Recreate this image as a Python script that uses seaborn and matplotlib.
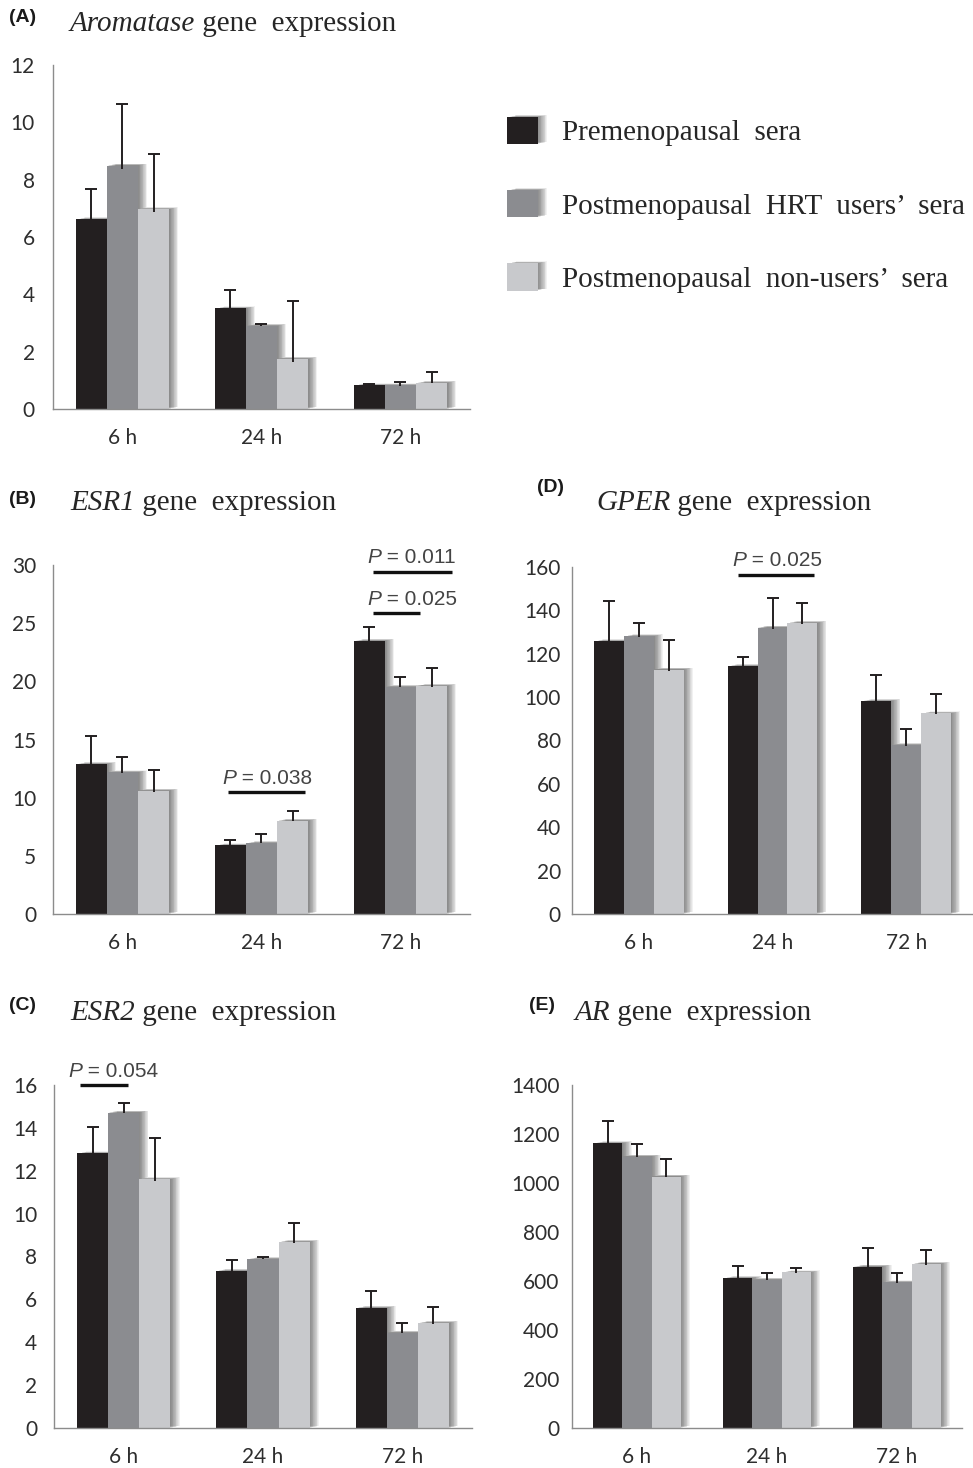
import numpy as np
import pandas as pd
import matplotlib
matplotlib.use("Agg")
import matplotlib.pyplot as plt
import matplotlib.patheffects as pe
import seaborn as sns

sns.set_style("white")
plt.rcParams['font.family'] = ['Lato', 'DejaVu Sans']

# data
times = ['6 h', '24 h', '72 h']
groups = ['Premenopausal  sera', 'Postmenopausal  HRT  users\u2019  sera',
          'Postmenopausal  non-users\u2019  sera']
colors = ['#231f20', '#8b8c90', '#c8c9cc']

arom_mean = [[6.62, 3.51, 0.82], [8.49, 2.90, 0.82], [6.97, 1.75, 0.91]]
arom_err = [[1.05, 0.65, 0.05], [2.14, 0.07, 0.12], [1.91, 2.01, 0.37]]

esr1_mean = [[12.88, 5.90, 23.48], [12.17, 6.10, 19.52], [10.59, 8.02, 19.61]]
esr1_err = [[2.38, 0.43, 1.23], [1.29, 0.74, 0.89], [1.75, 0.80, 1.52]]

gper_mean = [[125.8, 114.3, 98.2], [128.1, 132.1, 77.9], [112.7, 134.2, 92.5]]
gper_err = [[18.4, 4.0, 12.2], [6.3, 13.6, 7.4], [13.8, 9.2, 8.9]]

esr2_mean = [[12.81, 7.33, 5.60], [14.71, 7.88, 4.44], [11.60, 8.68, 4.90]]
esr2_err = [[1.23, 0.50, 0.80], [0.43, 0.10, 0.48], [1.91, 0.86, 0.75]]

ar_mean = [[1162, 612, 659], [1108, 605, 594], [1026, 635, 670]]
ar_err = [[93, 51, 75], [50, 27, 38], [71, 20, 57]]

# significance bars: (x start, x end, y, p value)
esr1_sig = [(0.76, 1.31, 10.45, '0.038'), (1.80, 2.37, 29.43, '0.011'),
            (1.80, 2.14, 25.85, '0.025')]
gper_sig = [(0.74, 1.31, 156.4, '0.025')]
esr2_sig = [(-0.31, 0.03, 16.0, '0.054')]

W, H = 973, 1468
fig = plt.figure(figsize=(W / 100, H / 100), dpi=100)


def px_axes(x0, y0, x1, y1):
    return fig.add_axes([x0 / W, 1 - y1 / H, (x1 - x0) / W, (y1 - y0) / H])


def shadow():
    # soft grey shadow on the right side of each bar
    effects = [pe.SimplePatchShadow(offset=(i * 0.55, 0.12 * i), shadow_rgbFace='#404040', alpha=0.07)
               for i in range(1, 13)]
    return effects + [pe.Normal()]


def draw_panel(ax, means, errs, ymax, ystep, ypad):
    rows = []
    for g, vals in zip(groups, means):
        for t, v in zip(times, vals):
            rows.append({'time': t, 'group': g, 'value': v})
    df = pd.DataFrame(rows)
    sns.barplot(data=df, x='time', y='value', hue='group', hue_order=groups,
                order=times, palette=colors, width=0.67, gap=0, ax=ax,
                saturation=1, legend=False, errorbar=None, linewidth=0)
    for cont, err in zip(ax.containers, errs):
        xs, ys = [], []
        for bar in cont:
            bar.set_path_effects(shadow())
            xs.append(bar.get_x() + bar.get_width() / 2)
            ys.append(bar.get_height())
        eb = ax.errorbar(xs, np.array(ys) - np.array(err) * 0.05,
                         yerr=[np.zeros(len(err)), np.array(err) * 1.05], fmt='none',
                         ecolor='#231f20', elinewidth=1.4, capsize=4.2, capthick=1.4, zorder=5)
        eb.lines[1][0].set_visible(False)
    ax.set_xlim(-0.5, 2.5)
    ax.set_ylim(0, ymax)
    ax.set_yticks(np.arange(0, ymax + 1e-9, ystep))
    ax.set_xlabel('')
    ax.set_ylabel('')
    sns.despine(ax=ax)
    for s in ['left', 'bottom']:
        ax.spines[s].set_color('#8c8c8c')
        ax.spines[s].set_linewidth(1.0)
    ax.tick_params(axis='y', length=0, pad=ypad, labelsize=15, labelcolor='#2e2e2e')
    ax.tick_params(axis='x', length=0, pad=14, labelsize=15, labelcolor='#2e2e2e')


def add_sig(ax, sigs, dx=-4):
    for x0, x1, y, p in sigs:
        ax.plot([x0, x1], [y, y], color='#111111', lw=2.4, clip_on=False, solid_capstyle='butt')
        t1 = ax.annotate('P', xy=(x0, y), xytext=(dx, 6), textcoords='offset points',
                         fontsize=15, style='italic', color='#444444',
                         family=['Liberation Sans'], va='baseline', ha='left',
                         annotation_clip=False)
        ax.annotate(' = ' + p, xy=(1, 0), xycoords=t1, fontsize=15, color='#444444',
                    family=['Liberation Sans'], va='bottom', ha='left')


def add_title(ax, label, lx, ly, gene, tx, ty):
    fig.text(lx / W, 1 - ly / H, label, fontsize=14, fontweight='bold',
             family=['Liberation Sans'], color='#1a1a1a', va='center', ha='left')
    t1 = ax.annotate(gene, xy=(tx / W, 1 - ty / H), xycoords='figure fraction',
                     fontsize=21, style='italic', family=['Liberation Serif'],
                     color='#262626', va='baseline', ha='left', annotation_clip=False)
    ax.annotate(' gene  expression', xy=(1, 0), xycoords=t1, fontsize=21,
                family=['Liberation Serif'], color='#262626', va='bottom', ha='left')


ax_a = px_axes(53, 65, 470, 409)
draw_panel(ax_a, arom_mean, arom_err, 12, 2, 13)
add_title(ax_a, '(A)', 9, 18, 'Aromatase', 70, 31)

ax_b = px_axes(53, 565, 470, 914)
draw_panel(ax_b, esr1_mean, esr1_err, 30, 5, 12)
add_sig(ax_b, esr1_sig)
add_title(ax_b, '(B)', 9, 500, 'ESR1', 70, 510)

ax_d = px_axes(572, 567, 973, 914)
draw_panel(ax_d, gper_mean, gper_err, 160, 20, 8)
add_sig(ax_d, gper_sig)
add_title(ax_d, '(D)', 537, 487, 'GPER', 596, 510)

ax_c = px_axes(54, 1085, 472, 1428)
draw_panel(ax_c, esr2_mean, esr2_err, 16, 2, 12)
add_sig(ax_c, esr2_sig, dx=-9)
add_title(ax_c, '(C)', 9, 1005, 'ESR2', 70, 1020)

ax_e = px_axes(572, 1085, 962, 1428)
draw_panel(ax_e, ar_mean, ar_err, 1400, 200, 9)
add_title(ax_e, '(E)', 529, 1005, 'AR', 575, 1020)

# legend
handles = [plt.Rectangle((0, 0), 1, 1, facecolor=c, edgecolor='none') for c in colors]
leg = fig.legend(handles, groups, loc='upper left',
                 bbox_to_anchor=(507 / W, 1 - 117 / H), bbox_transform=fig.transFigure,
                 frameon=False, prop={'family': 'Liberation Serif', 'size': 21},
                 handlelength=1.05, handleheight=1.05, labelspacing=1.5,
                 handletextpad=0.85, borderpad=0, borderaxespad=0)
for txt in leg.get_texts():
    txt.set_color('#262626')
for h in leg.legend_handles:
    h.set_path_effects(shadow())

fig.savefig('out.png', dpi=100)
print("Saved: out.png")
